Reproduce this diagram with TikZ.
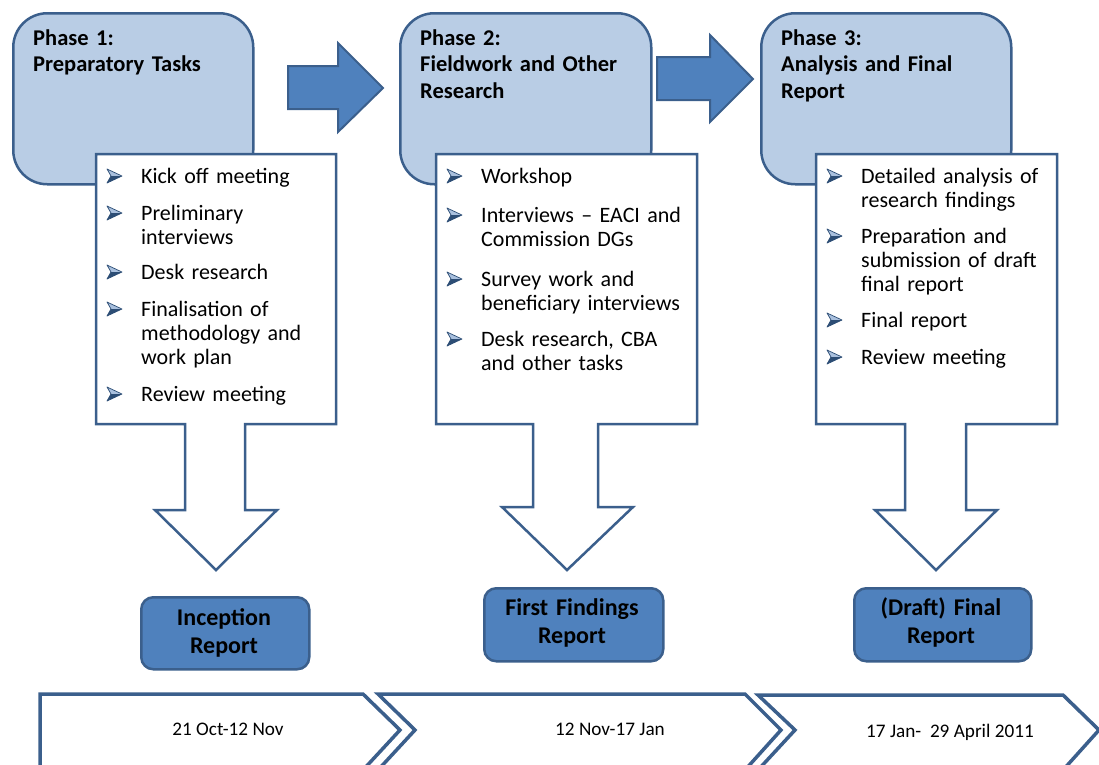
\documentclass[tikz,border=0pt]{standalone}
\usepackage{fontspec}
\setmainfont{Carlito}
\definecolor{paleblue}{HTML}{B9CDE5}
\definecolor{midblue}{HTML}{4F81BD}
\definecolor{edgeblue}{HTML}{3B5F8C}
\definecolor{bulletlight}{HTML}{A9C0DE}
\definecolor{bulletdark}{HTML}{2C4D75}
\begin{document}
\begin{tikzpicture}[x=1pt,y=-1pt,
  phasebox/.style={draw=edgeblue, fill=paleblue, line width=2.5pt,
    rounded corners=34pt, inner sep=0pt, anchor=north west},
  flowarrow/.style={draw=edgeblue, fill=midblue, line width=2pt, line join=miter},
  taskbody/.style={draw=edgeblue, fill=white, line width=2.5pt, line join=miter},
  reportbox/.style={draw=edgeblue, fill=midblue, line width=2.5pt,
    rounded corners=12pt, inner sep=0pt, anchor=north west},
  chevron/.style={draw=edgeblue, fill=white, line width=3.5pt, line join=miter},
  phasetitle/.style={anchor=base west, inner sep=0pt, align=left, text width=230pt,
    font=\bfseries\fontsize{22.5}{26.5}\selectfont},
  item/.style={anchor=base west, inner sep=0pt, align=left, text width=215pt,
    font=\fontsize{22}{24}\selectfont},
  reportlabel/.style={anchor=base, inner sep=0pt, align=center, text width=170pt,
    font=\bfseries\fontsize{24}{28}\selectfont},
  datelabel/.style={anchor=base, inner sep=0pt, font=\fontsize{19.2}{22}\selectfont},
  pics/bul/.style={code={
    \fill[bulletlight] (0,-7) -- (15,0) -- (4,0) -- cycle;
    \fill[bulletdark] (0,7) -- (15,0) -- (4,0) -- cycle;
    \draw[bulletdark, line width=0.7pt, line join=round]
      (0,-7) -- (15,0) -- (0,7) -- (4,0) -- cycle;
  }}
]
\useasboundingbox (0,0) rectangle (1099,764);
\clip (0,0) rectangle (1099,764);

% phase headers
\node[phasebox, minimum width=240pt, minimum height=171pt] (ph1) at (12,12) {};
\node[phasebox, minimum width=251pt, minimum height=171pt] (ph2) at (399,12) {};
\node[phasebox, minimum width=250pt, minimum height=171pt] (ph3) at (760,12) {};

\node[phasetitle] (t1) at (33,45) {Phase 1:\\Preparatory Tasks};
\node[phasetitle] (t2) at (420,45) {Phase 2:\\Fieldwork and Other\\Research};
\node[phasetitle] (t3) at (781,45) {Phase 3:\\Analysis and Final\\Report};

% block arrows between phases
\draw[flowarrow] (288,66) -- (338,66) -- (338,43) -- (383,88) -- (338,132)
  -- (338,109) -- (288,109) -- cycle;
\draw[flowarrow] (657,57) -- (710,57) -- (710,35) -- (753,79) -- (710,122)
  -- (710,100) -- (657,100) -- cycle;

% task lists with down-arrow callouts
\draw[taskbody] (96,154) -- (336,154) -- (336,424) -- (245,424) -- (245,510)
  -- (277,510) -- (216,570) -- (155,510) -- (185,510) -- (185,424) -- (96,424) -- cycle;
\draw[taskbody] (436,154) -- (697,154) -- (697,424) -- (598,424) -- (598,507)
  -- (633,507) -- (567,570) -- (502,507) -- (533,507) -- (533,424) -- (436,424) -- cycle;
\draw[taskbody] (816,154) -- (1057,154) -- (1057,424) -- (966,424) -- (966,510)
  -- (997,510) -- (936,570) -- (875,510) -- (905,510) -- (905,424) -- (816,424) -- cycle;

% phase 1 tasks
\foreach \yb in {183,220,279,316,401} \pic at (107,\yb-7) {bul};
\node[item] (a1) at (141,183) {Kick off meeting};
\node[item] (a2) at (141,220) {Preliminary\\interviews};
\node[item] (a3) at (141,279) {Desk research};
\node[item] (a4) at (141,316) {Finalisation of\\methodology and\\work plan};
\node[item] (a5) at (141,401) {Review meeting};

% phase 2 tasks
\foreach \yb in {183,222,286,346} \pic at (447,\yb-7) {bul};
\node[item] (b1) at (481,183) {Workshop};
\node[item] (b2) at (481,222) {Interviews – EACI and\\Commission DGs};
\node[item] (b3) at (481,286) {Survey work and\\beneficiary interviews};
\node[item] (b4) at (481,346) {Desk research, CBA\\and other tasks};

% phase 3 tasks
\foreach \yb in {183,243,327,364} \pic at (827,\yb-7) {bul};
\node[item] (c1) at (861,183) {Detailed analysis of\\research findings};
\node[item] (c2) at (861,243) {Preparation and\\submission of draft\\final report};
\node[item] (c3) at (861,327) {Final report};
\node[item] (c4) at (861,364) {Review meeting};

% deliverables
\node[reportbox, minimum width=168pt, minimum height=72pt] (r1) at (140,596) {};
\node[reportbox, minimum width=179pt, minimum height=73pt] (r2) at (483,587) {};
\node[reportbox, minimum width=177pt, minimum height=73pt] (r3) at (853,587) {};
\node[reportlabel] (l1) at (224,625) {Inception\\Report};
\node[reportlabel] (l2) at (572,615) {First Findings\\Report};
\node[reportlabel] (l3) at (941,615) {(Draft) Final\\Report};

% timeline
\draw[chevron] (40,694) -- (363,694) -- (400,730) -- (363,770) -- (40,770) -- cycle;
\draw[chevron] (378,694) -- (745,694) -- (781,730) -- (745,770) -- (378,770)
  -- (415,730) -- cycle;
\draw[chevron] (758,695) -- (1063,695) -- (1099,730) -- (1063,770) -- (758,770)
  -- (795,730) -- cycle;
\node[datelabel] (d1) at (228,735) {21 Oct-12 Nov};
\node[datelabel] (d2) at (610,735) {12 Nov-17 Jan};
\node[datelabel] (d3) at (950,737) {17 Jan-\ \ 29 April 2011};
\end{tikzpicture}
\end{document}
